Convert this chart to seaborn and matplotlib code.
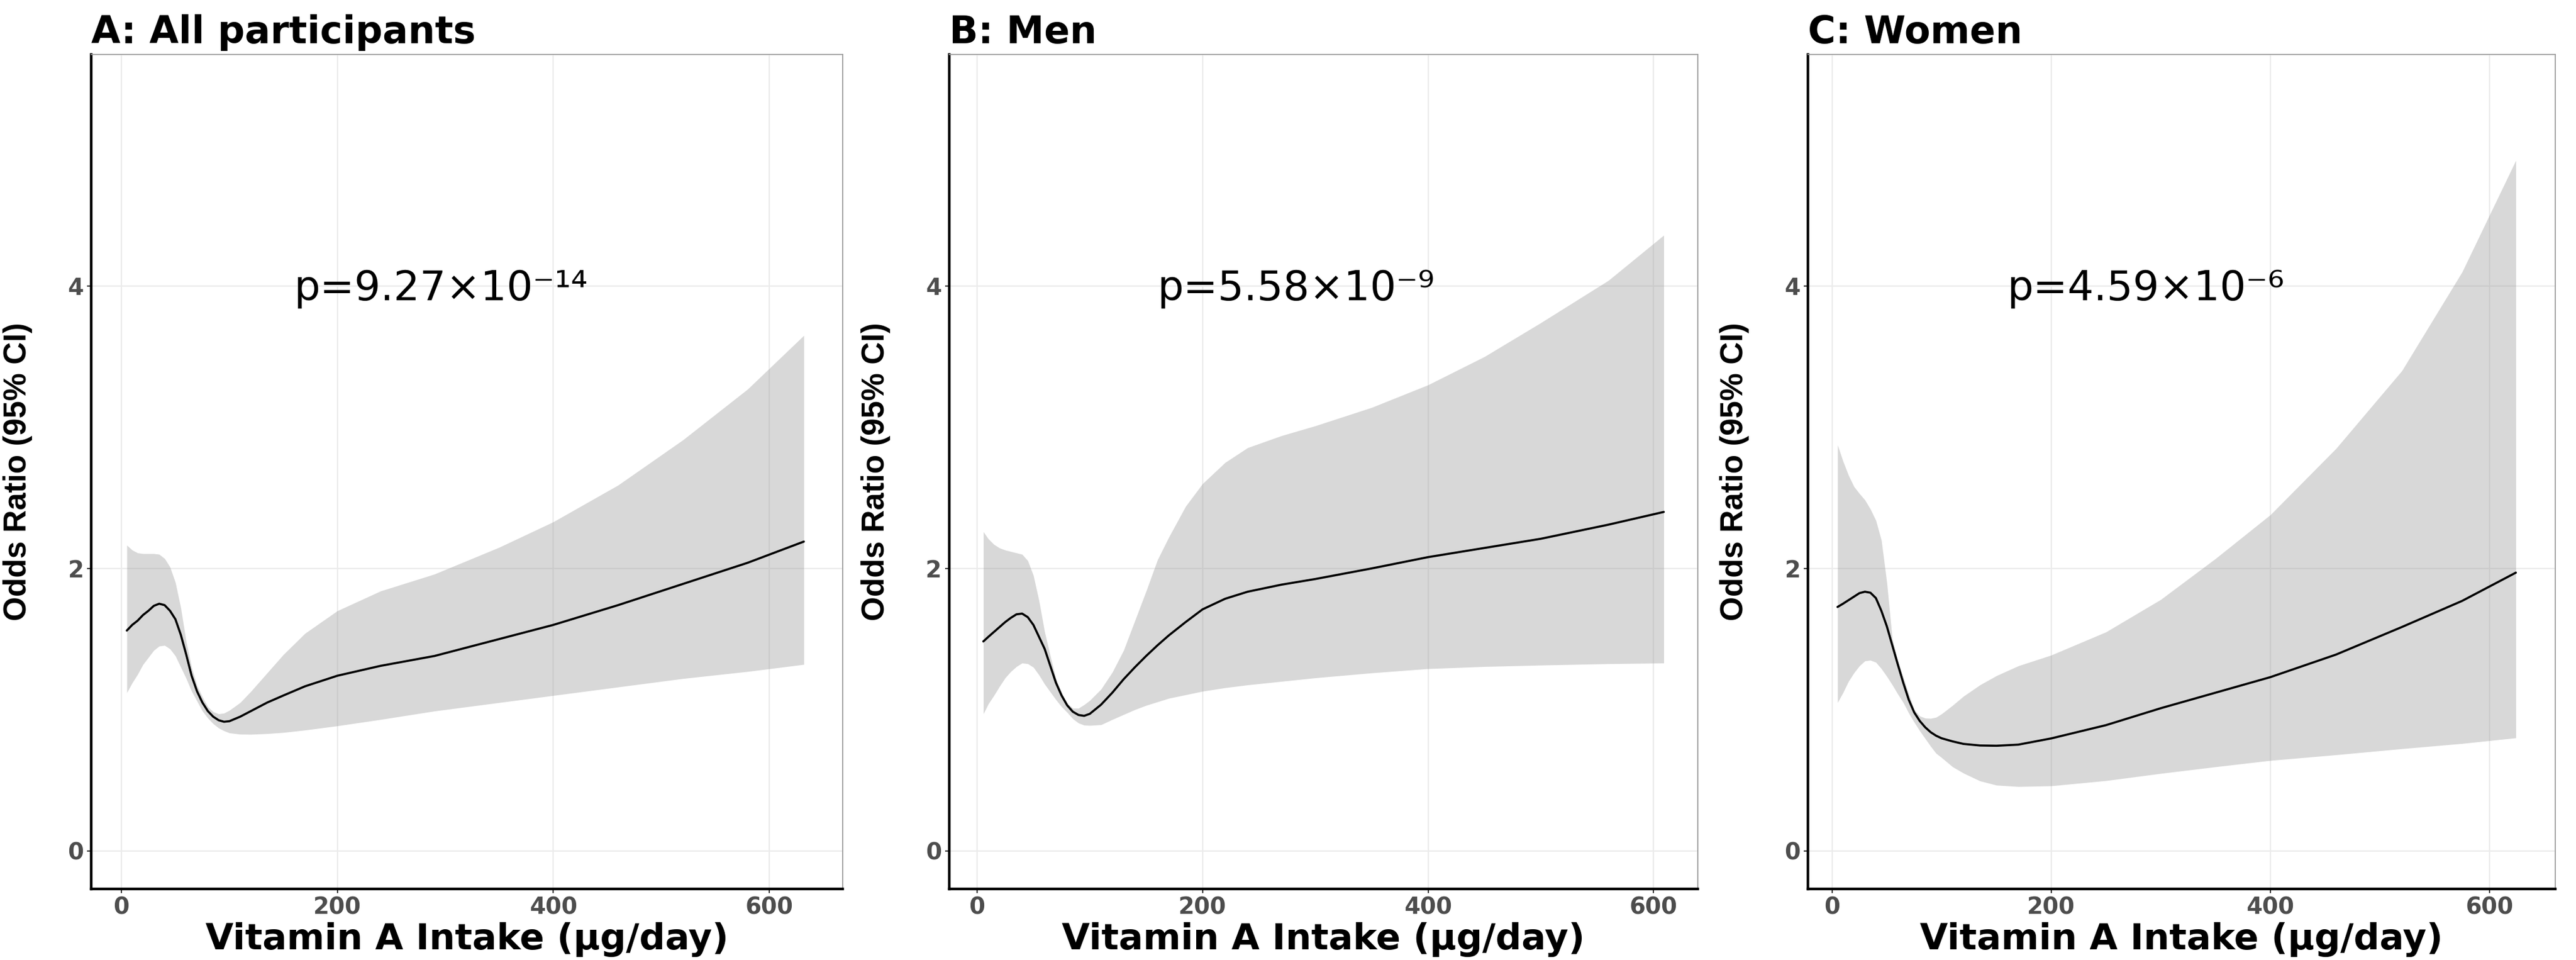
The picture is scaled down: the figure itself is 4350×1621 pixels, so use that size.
import matplotlib
matplotlib.use('Agg')
import matplotlib.pyplot as plt
import seaborn as sns
import pandas as pd

# panel titles and p-values
titles = ['A: All participants', 'B: Men', 'C: Women']
p_labels = ['p=9.27×10⁻¹⁴', 'p=5.58×10⁻⁹', 'p=4.59×10⁻⁶']

# A: all participants
a_x = [5, 10, 15, 20, 25, 30, 35, 40, 45, 50, 55, 60, 65, 70, 75, 80, 85, 90, 95, 100,
       110, 120, 135, 150, 170, 200, 240, 290, 350, 400, 460, 520, 580, 632]
a_or = [1.56, 1.60, 1.63, 1.67, 1.70, 1.735, 1.75, 1.74, 1.70, 1.64, 1.53, 1.39, 1.24, 1.13,
        1.05, 0.99, 0.95, 0.925, 0.914, 0.918, 0.95, 0.99, 1.05, 1.10, 1.165, 1.24, 1.31,
        1.38, 1.50, 1.60, 1.74, 1.89, 2.04, 2.19]
a_hi = [2.165, 2.13, 2.11, 2.105, 2.105, 2.105, 2.10, 2.07, 2.01, 1.90, 1.72, 1.48, 1.30,
        1.17, 1.09, 1.02, 0.985, 0.97, 0.975, 0.995, 1.05, 1.13, 1.26, 1.39, 1.54, 1.70,
        1.84, 1.96, 2.15, 2.33, 2.59, 2.91, 3.27, 3.65]
a_lo = [1.12, 1.19, 1.25, 1.32, 1.37, 1.42, 1.45, 1.455, 1.43, 1.38, 1.30, 1.22, 1.13, 1.06,
        0.99, 0.94, 0.90, 0.87, 0.85, 0.835, 0.826, 0.825, 0.83, 0.838, 0.855, 0.885, 0.93,
        0.99, 1.05, 1.10, 1.16, 1.22, 1.27, 1.32]

# B: men
b_x = [5.6, 10, 15, 20, 25, 30, 35, 40, 45, 50, 55, 60, 65, 70, 75, 80, 85, 90, 95, 100,
       110, 120, 130, 140, 150, 160, 170, 185, 200, 220, 240, 270, 300, 350, 400, 450, 500,
       560, 609]
b_or = [1.483, 1.515, 1.55, 1.585, 1.62, 1.65, 1.675, 1.68, 1.655, 1.60, 1.515, 1.43, 1.31,
        1.19, 1.10, 1.03, 0.985, 0.962, 0.956, 0.97, 1.035, 1.12, 1.215, 1.30, 1.38, 1.455,
        1.525, 1.62, 1.71, 1.785, 1.835, 1.885, 1.925, 2.00, 2.08, 2.145, 2.21, 2.31, 2.40]
b_hi = [2.26, 2.21, 2.17, 2.145, 2.13, 2.12, 2.11, 2.10, 2.055, 1.95, 1.77, 1.55, 1.38, 1.22,
        1.12, 1.045, 1.01, 1.01, 1.035, 1.065, 1.145, 1.265, 1.42, 1.63, 1.84, 2.06, 2.22,
        2.44, 2.60, 2.75, 2.855, 2.94, 3.01, 3.14, 3.30, 3.50, 3.74, 4.04, 4.36]
b_lo = [0.97, 1.04, 1.10, 1.165, 1.225, 1.27, 1.305, 1.33, 1.325, 1.30, 1.245, 1.18, 1.125,
        1.07, 1.02, 0.98, 0.935, 0.905, 0.89, 0.888, 0.893, 0.93, 0.965, 1.0, 1.03, 1.055,
        1.08, 1.105, 1.13, 1.155, 1.175, 1.20, 1.225, 1.26, 1.29, 1.305, 1.315, 1.325, 1.33]

# C: women
c_x = [5, 10, 15, 20, 25, 30, 35, 40, 45, 50, 55, 60, 65, 70, 75, 80, 85, 90, 95, 100,
       110, 120, 135, 150, 170, 200, 250, 300, 350, 400, 460, 520, 575, 624]
c_or = [1.727, 1.75, 1.775, 1.80, 1.825, 1.835, 1.828, 1.79, 1.70, 1.59, 1.455, 1.32, 1.19,
        1.07, 0.98, 0.92, 0.875, 0.84, 0.815, 0.797, 0.775, 0.757, 0.746, 0.744, 0.752,
        0.796, 0.89, 1.01, 1.12, 1.23, 1.39, 1.585, 1.77, 1.97]
c_hi = [2.875, 2.76, 2.66, 2.58, 2.53, 2.485, 2.42, 2.34, 2.20, 1.90, 1.50, 1.35, 1.23, 1.11,
        1.0, 0.955, 0.94, 0.938, 0.946, 0.97, 1.03, 1.095, 1.175, 1.24, 1.31, 1.386, 1.55,
        1.78, 2.07, 2.38, 2.85, 3.40, 4.10, 4.89]
c_lo = [1.05, 1.12, 1.20, 1.26, 1.31, 1.345, 1.35, 1.335, 1.29, 1.235, 1.175, 1.11, 1.05,
        0.975, 0.91, 0.85, 0.795, 0.74, 0.69, 0.66, 0.595, 0.55, 0.495, 0.465, 0.455, 0.46,
        0.497, 0.548, 0.595, 0.64, 0.68, 0.723, 0.76, 0.80]

x_ticks = [0, 200, 400, 600]
y_ticks = [0, 2, 4]

panels = [
    pd.DataFrame({'x': a_x, 'or': a_or, 'lo': a_lo, 'hi': a_hi}),
    pd.DataFrame({'x': b_x, 'or': b_or, 'lo': b_lo, 'hi': b_hi}),
    pd.DataFrame({'x': c_x, 'or': c_or, 'lo': c_lo, 'hi': c_hi}),
]

sns.set_theme(style='white')
plt.rcParams['font.family'] = ['DejaVu Sans']
plt.rcParams['text.color'] = 'black'
plt.rcParams['axes.labelcolor'] = 'black'
plt.rcParams['axes.titlecolor'] = 'black'

W, H = 4350, 1621
fig = plt.figure(figsize=(W / 100, H / 100), dpi=100)

# axes boxes in pixels: left, right, x limits
boxes = [(154, 1423, (-28, 668)), (1603, 2867, (-24.6, 639.2)), (3053, 4315, (-22, 660))]
top, bottom = 92, 1501

for i, (df, (l, r, xl)) in enumerate(zip(panels, boxes)):
    ax = fig.add_axes([l / W, (H - bottom) / H, (r - l) / W, (bottom - top) / H])
    ax.fill_between(df['x'], df['lo'], df['hi'], color='#999999', alpha=0.38, lw=0)
    sns.lineplot(data=df, x='x', y='or', ax=ax, color='black', lw=2.6)
    ax.set_xlim(*xl)
    ax.set_ylim(-0.27, 5.64)
    ax.set_xticks(x_ticks)
    ax.set_yticks(y_ticks)
    ax.grid(True, color='#EBEBEB', lw=1.6)
    ax.set_axisbelow(True)
    for s in ['left', 'bottom']:
        ax.spines[s].set_color('black')
        ax.spines[s].set_linewidth(3.2)
    for s in ['top', 'right']:
        ax.spines[s].set_color('#9a9a9a')
        ax.spines[s].set_linewidth(1.3)
    ax.tick_params(axis='both', length=5, width=1.5, color='#333333',
                   labelsize=28, labelcolor='#4D4D4D', pad=4, bottom=True, left=True)
    for lbl in ax.get_xticklabels() + ax.get_yticklabels():
        lbl.set_fontweight('bold')
    ax.set_title(titles[i], loc='left', fontsize=46, fontweight='bold', pad=14)
    ax.set_xlabel('Vitamin A Intake (μg/day)', fontsize=44, fontweight='bold', labelpad=4)
    ax.set_ylabel('Odds Ratio (95% CI)', fontsize=38, fontweight='bold',
                  family=['Liberation Sans', 'DejaVu Sans'])
    ax.yaxis.set_label_coords(-99 / (r - l), 0.5)
    ax.text(160, 3.9, p_labels[i], fontsize=50, ha='left', va='baseline')

fig.savefig('out.png', dpi=100, facecolor='white')
